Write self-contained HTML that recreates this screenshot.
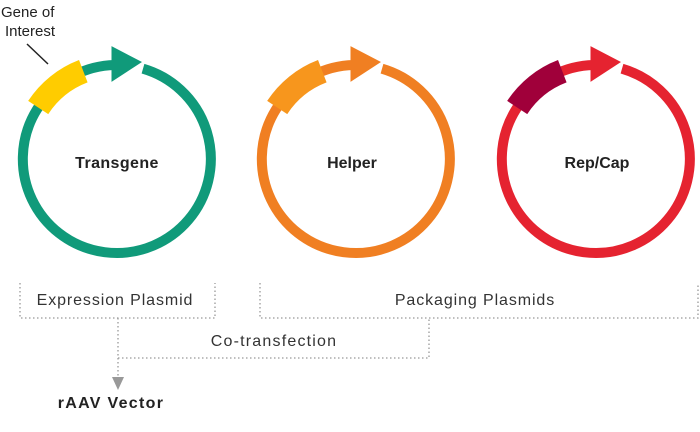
<!DOCTYPE html>
<html><head><meta charset="utf-8"><style>
html,body{margin:0;padding:0;background:#fff;}
svg{display:block;font-family:"Liberation Sans",sans-serif;}
</style></head><body>
<svg width="700" height="432" viewBox="0 0 700 432" xmlns="http://www.w3.org/2000/svg">
<defs>
<g id="ring">
  <path d="M 26 -90.3 A 94 94 0 1 1 -2 -94" fill="none" stroke-width="10"/>
  <polygon points="-5,-112 -5,-78 24,-97"/>
</g>
</defs>
<g transform="translate(117,159)" fill="#109a7a" stroke="#109a7a">
  <use href="#ring"/>
</g>
<path d="M 38.2 107.5 A 94 94 0 0 1 83.3 71.2" fill="none" stroke="#ffcc00" stroke-width="24"/>
<line x1="27" y1="44" x2="48" y2="64" stroke="#222" stroke-width="1.5"/>
<text x="1" y="17" font-size="15" fill="#222">Gene of</text>
<text x="5" y="36" font-size="15" fill="#222">Interest</text>
<text x="117" y="168" font-size="16" font-weight="bold" fill="#222" text-anchor="middle" letter-spacing="0.4">Transgene</text>
<g transform="translate(356,159)" fill="#f07f22" stroke="#f07f22">
  <use href="#ring"/>
</g>
<path d="M 277.2 107.5 A 94 94 0 0 1 322.3 71.2" fill="none" stroke="#f7961d" stroke-width="24"/>
<text x="352" y="168" font-size="16" font-weight="bold" fill="#222" text-anchor="middle">Helper</text>
<g transform="translate(596,159)" fill="#e52330" stroke="#e52330">
  <use href="#ring"/>
</g>
<path d="M 517.2 107.5 A 94 94 0 0 1 562.3 71.2" fill="none" stroke="#a0003a" stroke-width="24"/>
<text x="597" y="168" font-size="16" font-weight="bold" fill="#222" text-anchor="middle">Rep/Cap</text>
<g fill="none" stroke="#999" stroke-width="1.3" stroke-dasharray="1.5,2.5">
  <path d="M20 283 V318 H215 V283"/>
  <path d="M260 283 V318 H698 V283"/>
  <path d="M118 318 V358 H429 V318"/>
  <path d="M118 358 V378"/>
</g>
<polygon points="112,377 124,377 118,390" fill="#999"/>
<text x="115" y="305" font-size="16" fill="#333" text-anchor="middle" letter-spacing="0.9">Expression Plasmid</text>
<text x="475" y="305" font-size="16" fill="#333" text-anchor="middle" letter-spacing="0.9">Packaging Plasmids</text>
<text x="274" y="346" font-size="16" fill="#333" text-anchor="middle" letter-spacing="1.2">Co-transfection</text>
<text x="111" y="408" font-size="16" font-weight="bold" fill="#222" text-anchor="middle" letter-spacing="1.3">rAAV Vector</text>
</svg>
</body></html>
